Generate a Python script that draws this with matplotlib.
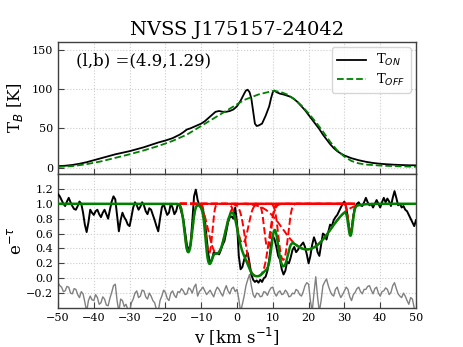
import numpy as np
import matplotlib
matplotlib.use("Agg")
import matplotlib.pyplot as plt

plt.rcParams['font.family'] = ['DejaVu Serif']
plt.rcParams['axes.unicode_minus'] = True

# ---------------- data ----------------
title = "NVSS J175157-24042"
lb_text = "(l,b) =(4.9,1.29)"

# Top panel: emission spectra
v_on = [-50, -48, -46, -44, -42, -40, -38, -36, -34, -32, -30, -28, -26, -24, -22, -20,
        -18, -16, -15, -14, -13, -12, -11, -10, -9, -8, -7, -6, -5, -4, -3, -2, -1, 0,
        1, 2, 2.5, 3, 3.5, 4, 4.5, 5, 5.5, 6, 7, 8, 9, 9.5, 10, 10.5, 11, 12, 13, 14,
        15, 16, 17, 18, 19, 20, 21, 22, 23, 24, 25, 26, 27, 28, 29, 30, 32, 34, 36, 38,
        40, 42, 44, 46, 48, 50]
t_on = [2.0, 2.5, 3.5, 5, 7, 9.5, 12, 14.5, 17, 19, 21, 23.5, 26, 29, 32, 34.5,
        37.5, 42, 45, 48.5, 50, 52, 54, 56, 59, 63, 67, 71, 72, 71, 71, 72, 74, 78,
        85, 94, 98, 99, 96, 88, 72, 56, 53, 53.5, 56, 66, 78, 88, 96, 98, 96, 94, 93, 91.5,
        90, 87, 83, 78, 73, 67, 61, 55, 49, 42, 36, 30, 25, 21, 18, 15.5, 12, 9.5, 7.5, 6,
        5, 4.3, 3.8, 3.4, 3.1, 3.0]

v_off = [-50, -46, -42, -38, -34, -30, -26, -22, -18, -14, -10, -6, -2, 2, 6, 10, 12,
         14, 16, 18, 20, 22, 24, 26, 28, 30, 32, 34, 36, 40, 45, 50]
t_off = [1, 2, 4.5, 8, 12.5, 17, 22, 27.5, 34, 42, 53, 64, 75, 86, 93, 97.5, 96.5,
         93, 87, 79, 69, 58, 46, 33, 22, 14, 8.5, 5.5, 4, 2.7, 1.8, 1.2]

# Bottom panel: absorption spectrum (0.5 km/s channels from -50 to 50)
v_abs_start, v_abs_step = -50.0, 0.5
e_tau = [1.13, 1.10, 1.05, 1.00, 0.97, 1.03, 1.08, 1.02, 0.97, 0.93,
         0.92, 0.97, 1.03, 1.00, 0.88, 0.72, 0.62, 0.75, 0.92, 0.88,
         0.85, 0.90, 0.92, 0.86, 0.82, 0.88, 0.92, 0.86, 0.80, 0.92,
         1.03, 1.10, 1.06, 0.85, 0.63, 0.78, 0.88, 0.82, 0.78, 0.72,
         0.70, 0.82, 0.95, 1.02, 0.98, 0.92, 0.96, 1.02, 0.98, 0.90,
         0.86, 0.94, 0.92, 0.85, 0.78, 0.70, 0.63, 0.80, 0.95, 1.00,
         0.92, 0.85, 0.88, 1.00, 0.95, 0.86, 0.90, 1.00, 0.97, 0.88,
         0.80, 0.62, 0.45, 0.37, 0.45, 0.75, 1.10, 1.19, 1.05, 0.98,
         0.97, 0.92, 0.80, 0.55, 0.32, 0.20, 0.25, 0.35, 0.33, 0.34,
         0.32, 0.38, 0.45, 0.50, 0.62, 0.75, 0.82, 0.83, 0.80, 0.95,
         0.75, 0.30, 0.12, 0.15, 0.25, 0.30, 0.34, 0.20, 0.05, -0.02,
         -0.05, -0.03, -0.06, -0.02, -0.05, 0.00, 0.02, 0.10, 0.25, 0.45,
         0.57, 0.52, 0.42, 0.30, 0.25, 0.12, 0.05, 0.10, 0.22, 0.20,
         0.28, 0.38, 0.42, 0.35, 0.38, 0.42, 0.45, 0.48, 0.42, 0.32,
         0.20, 0.30, 0.45, 0.55, 0.48, 0.35, 0.30, 0.45, 0.60, 0.58,
         0.52, 0.62, 0.72, 0.70, 0.78, 0.82, 0.85, 0.90, 0.95, 1.00,
         1.03, 0.95, 0.80, 0.62, 0.65, 0.85, 0.95, 1.00, 1.02, 0.98,
         0.97, 1.02, 1.08, 1.02, 0.98, 1.00, 0.95, 1.00, 1.05, 1.00,
         0.95, 1.02, 1.08, 1.02, 1.07, 1.03, 0.97, 1.08, 1.17, 1.08,
         0.98, 1.00, 0.95, 0.97, 0.92, 0.90, 0.85, 0.80, 0.75, 0.70,
         0.78]

# Residuals (0.5 km/s channels from -50 to 50)
v_res_start, v_res_step = -50.0, 0.5
resid = [-0.06, -0.10, -0.12, -0.18, -0.17, -0.11, -0.12, -0.20, -0.21, -0.14,
         -0.15, -0.22, -0.26, -0.18, -0.21, -0.32, -0.45, -0.30, -0.24, -0.29,
         -0.30, -0.22, -0.26, -0.35, -0.33, -0.25, -0.28, -0.36, -0.37, -0.27,
         -0.19, -0.10, -0.08, -0.30, -0.45, -0.28, -0.30, -0.38, -0.35, -0.42,
         -0.45, -0.33, -0.28, -0.20, -0.17, -0.26, -0.24, -0.16, -0.17, -0.25,
         -0.28, -0.20, -0.24, -0.30, -0.33, -0.42, -0.45, -0.30, -0.24, -0.16,
         -0.19, -0.27, -0.30, -0.20, -0.17, -0.23, -0.26, -0.18, -0.19, -0.14,
         -0.17, -0.22, -0.21, -0.13, -0.15, -0.20, -0.12, -0.08, -0.24, -0.18,
         -0.15, -0.12, -0.17, -0.22, -0.19, -0.16, -0.21, -0.25, -0.17, -0.12,
         -0.15, -0.20, -0.24, -0.16, -0.10, -0.17, -0.21, -0.14, -0.12, -0.18,
         -0.15, -0.28, -0.45, -0.35, -0.24, -0.10, -0.02, 0.05, -0.10, -0.22,
         -0.26, -0.20, -0.21, -0.25, -0.24, -0.18, -0.19, -0.23, -0.17, -0.13,
         -0.12, -0.20, -0.24, -0.19, -0.17, -0.22, -0.21, -0.16, -0.19, -0.25,
         -0.24, -0.20, -0.21, -0.15, -0.17, -0.22, -0.24, -0.18, -0.10, -0.06,
         -0.08, -0.30, -0.45, -0.20, 0.02, -0.25, -0.45, -0.30, -0.10, -0.05,
         -0.01, -0.10, -0.17, -0.22, -0.24, -0.15, -0.12, -0.20, -0.26, -0.22,
         -0.17, -0.12, -0.15, -0.25, -0.30, -0.22, -0.19, -0.14, -0.12, -0.18,
         -0.21, -0.15, -0.15, -0.11, -0.10, -0.16, -0.21, -0.14, -0.12, -0.20,
         -0.24, -0.18, -0.17, -0.13, -0.15, -0.22, -0.19, -0.10, -0.06, -0.14,
         -0.21, -0.24, -0.26, -0.20, -0.24, -0.30, -0.35, -0.26, -0.28, -0.40,
         -0.45]

# Gaussian components of the fit (optical depth)
comp_center = [-13.6, -7.8, -5.6, 1.6, 5.6, 8.6, 12.9, 19.5, 31.7]
comp_tau = [1.05, 1.1, 1.1, 0.75, 3.6, 0.9, 1.4, 0.95, 0.5]
comp_sigma = [0.85, 0.7, 1.8, 1.3, 1.8, 0.8, 1.0, 5.2, 0.55]

# ---------------- figure ----------------
fig = plt.figure(figsize=(4.63, 3.47), dpi=100)
L, W = 58 / 463, 358 / 463
ax1 = fig.add_axes([L, 1 - 174 / 347, W, 132.3 / 347])
ax2 = fig.add_axes([L, 1 - 308 / 347, W, 134 / 347])

spine_col = '0.25'
for ax in (ax1, ax2):
    for s in ax.spines.values():
        s.set_color(spine_col)
        s.set_linewidth(1.0)
    ax.tick_params(direction='in', labelsize=8, length=4, width=0.8, color=spine_col)
    ax.grid(True, linestyle=':', color='0.8', linewidth=0.8)
    ax.set_axisbelow(True)
    ax.set_xlim(-50, 50)
    ax.set_xticks(np.arange(-50, 51, 10))

# top panel
ax1.plot(v_on, t_on, color='black', lw=1.3, label=r'T$_{ON}$')
ax1.plot(v_off, t_off, color='green', lw=1.3, ls='--', label=r'T$_{OFF}$')
ax1.set_ylim(-8, 160)
ax1.set_yticks([0, 50, 100, 150])
ax1.tick_params(labelbottom=False)
ax1.set_ylabel(r'T$_B$ [K]', fontsize=12)
ax1.yaxis.set_label_coords(-0.092, 0.5)
ax1.set_title(title, fontsize=14, pad=5)
ax1.text(0.05, 0.855, lb_text, transform=ax1.transAxes, fontsize=12, va='center', ha='left')
ax1.legend(loc='upper right', fontsize=9.5, handlelength=2.2, borderpad=0.4,
           labelspacing=0.25, handletextpad=0.8, borderaxespad=0.4, edgecolor='0.8')

# bottom panel
v_abs = v_abs_start + v_abs_step * np.arange(len(e_tau))
v_res = v_res_start + v_res_step * np.arange(len(resid))
vm = np.linspace(-50, 50, 2001)
tau_tot = np.zeros_like(vm)
for c, t, s in zip(comp_center, comp_tau, comp_sigma):
    tau_tot += t * np.exp(-0.5 * ((vm - c) / s) ** 2)

ax2.plot(v_abs, e_tau, color='black', lw=1.4, zorder=3)
vr = np.linspace(-16, 33, 1001)
for c, t, s in zip(comp_center, comp_tau, comp_sigma):
    ax2.plot(vr, np.exp(-t * np.exp(-0.5 * ((vr - c) / s) ** 2)), color='red',
             ls='--', lw=1.4, zorder=4)
ax2.plot(vm, np.exp(-tau_tot), color='green', lw=1.8, zorder=5)
ax2.plot(v_res, resid, color='gray', lw=1.0, zorder=2)
ax2.set_ylim(-0.4, 1.4)
ax2.set_yticks(np.round(np.arange(-0.2, 1.21, 0.2), 1))
ax2.set_ylabel(r'e$^{-\tau}$', fontsize=12)
ax2.yaxis.set_label_coords(-0.092, 0.5)
ax2.set_xlabel(r'v [km s$^{-1}$]', fontsize=12, labelpad=2)

fig.savefig('out.png', dpi=100)
